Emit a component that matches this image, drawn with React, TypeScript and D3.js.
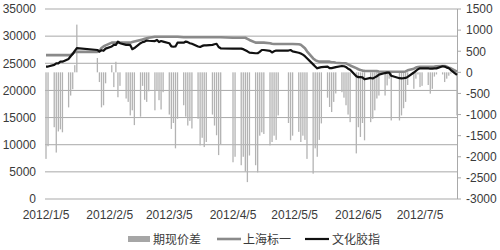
import React from "react";
import * as d3 from "d3";

// trading days of 2012 (month/day)
const dates = [
  "1/5","1/6","1/9","1/10","1/11","1/12","1/13","1/16","1/17","1/18","1/19","1/20","1/30","1/31",
  "2/1","2/2","2/3","2/6","2/7","2/8","2/9","2/10","2/13","2/14","2/15","2/16","2/17","2/20","2/21","2/22","2/23","2/24","2/27","2/28","2/29",
  "3/1","3/2","3/5","3/6","3/7","3/8","3/9","3/12","3/13","3/14","3/15","3/16","3/19","3/20","3/21","3/22","3/23","3/26","3/27","3/28","3/29","3/30",
  "4/5","4/6","4/9","4/10","4/11","4/12","4/13","4/16","4/17","4/18","4/19","4/20","4/23","4/24","4/25","4/26","4/27",
  "5/2","5/3","5/4","5/7","5/8","5/9","5/10","5/11","5/14","5/15","5/16","5/17","5/18","5/21","5/22","5/23","5/24","5/25","5/28","5/29","5/30","5/31",
  "6/1","6/4","6/5","6/6","6/7","6/8","6/11","6/12","6/13","6/14","6/15","6/18","6/19","6/20","6/21","6/25","6/26","6/27","6/28","6/29",
  "7/2","7/3","7/4","7/5","7/6","7/9","7/10","7/11","7/12","7/13","7/16","7/17","7/18","7/19","7/20","7/23",
];

// 期现价差 (right axis)
const spread = [
  -2050,-1750,-1300,-1900,-1400,-1350,-1420,-830,-550,-400,170,1130,340,-230,
  -830,-780,-260,170,-350,250,-590,-320,-620,-700,-1020,-900,-1250,-1050,-320,-650,-700,-450,-900,-430,-660,
  -880,-470,-1000,-1340,-1200,-1800,-1100,-780,-1050,-1260,-1150,-1330,-1100,-1730,-1550,-1770,-1650,-1000,-1260,-1490,-1960,-1700,
  -2130,-2000,-2200,-2000,-2350,-2600,-1970,-2200,-2370,-1500,-1420,-1460,-1730,-1650,-1500,-1600,-1020,
  -1200,-1610,-1500,-1410,-1650,-1500,-1600,-2050,-2400,-1800,-2000,-1600,-1210,-600,-820,-940,-700,-500,-470,-600,-780,-1000,
  -1180,-1920,-1300,-1530,-1200,-1610,-1180,-1100,-900,-620,-550,-550,-310,-150,-1140,-1140,-1020,-850,-700,-300,
  -390,-150,-50,-350,-320,-300,-505,-390,-100,-50,-50,-230,-150,-80,-30,-1020,
];

// 上海标一 (left axis)
const shanghai = [
  26500,26500,26500,26500,26500,26500,26500,26500,26500,26800,27100,27100,27100,27300,
  27800,28100,28300,28800,28800,28800,28800,28800,28800,28800,28800,28900,29000,29300,29400,29500,29600,29700,29900,29900,29900,
  29900,29900,29900,29900,29900,29900,29900,29800,29800,29800,29800,29800,29800,29800,29800,29800,29800,29800,29800,29800,29800,29800,
  29700,29700,29700,29700,29700,29500,29300,28800,28800,28800,28800,28800,28700,28600,28550,28550,28550,
  28550,28550,28550,28500,28400,28100,27760,27200,25900,25600,25400,25300,25300,25300,25300,25200,25200,25100,25000,25000,25000,24800,
  24600,24100,23900,23750,23650,23600,23580,23580,23580,23550,23500,23450,23450,23450,23450,23450,23450,23450,23500,23700,
  24000,24200,24300,24370,24370,24370,24370,24370,24400,24450,24500,24500,24400,24200,24070,23450,
];

// 文化胶指 (left axis)
const wenhua = [
  24400,24400,24700,25000,25000,25300,25300,25800,26300,26700,27300,27800,27450,27150,
  27400,27300,27700,28100,28400,28400,29000,28700,28400,28400,28350,27600,27800,28700,28900,29000,29200,29150,29100,29300,28900,
  29100,29000,28700,28100,28050,28100,28800,28800,29000,28900,28700,28600,28100,28000,28200,28300,28300,28400,28500,28600,28000,27760,
  27700,27700,27700,27600,27400,27200,26950,26850,26850,27100,27450,27450,27300,27000,27200,27350,27350,
  27350,27450,27200,26950,26800,26600,26300,25920,24800,24400,24070,24200,24300,24400,24100,24100,24200,24300,24500,24450,24300,24000,
  23800,22600,22450,22450,22400,22050,22300,22200,22400,22600,22900,23200,23270,23270,22700,22250,22230,22250,22300,22500,
  23300,23600,23900,24070,24070,24070,24000,24000,24050,24070,24450,24400,24200,24100,23760,22850,
];

const xTickLabels = ["2012/1/5","2012/2/5","2012/3/5","2012/4/5","2012/5/5","2012/6/5","2012/7/5"];
const leftTicks = [0,5000,10000,15000,20000,25000,30000,35000];
const rightTicks = [-3000,-2500,-2000,-1500,-1000,-500,0,500,1000,1500];
const legendLabels = ["期现价差","上海标一","文化胶指"];

const W = 500, H = 250;
const L = 46, R = 457, T = 9, B = 199;
const numFont = "'Liberation Sans', Arial, sans-serif";
const cjkFont = "'Noto Sans CJK SC', sans-serif";

export default function App() {
  const parse = d3.timeParse("%Y/%m/%d");
  const t = dates.map((d) => parse("2012/" + d) as Date);
  const x = d3.scaleTime().domain(d3.extent(t) as [Date, Date]).range([L, R]);
  const yL = d3.scaleLinear().domain([0, 35000]).range([B, T]);
  const yR = d3.scaleLinear().domain([-3000, 1500]).range([B, T]);
  const lineGen = d3.line<number>().x((_, i) => x(t[i])).y((v) => yL(v));
  const barW = 1.3;

  return (
    <svg width={W} height={H} style={{ position: "absolute", left: 0, top: 0, background: "#fff" }}>
      {/* grid */}
      {leftTicks.map((v) => (
        <line key={"g" + v} x1={L - 1} x2={R} y1={yL(v)} y2={yL(v)} stroke="#a9a9a9" strokeWidth={1} />
      ))}
      {/* right axis */}
      <line x1={R + 0.5} x2={R + 0.5} y1={T} y2={B} stroke="#a9a9a9" strokeWidth={1} />
      {rightTicks.map((v) => (
        <line key={"rt" + v} x1={R} x2={R + 4} y1={yR(v)} y2={yR(v)} stroke="#a9a9a9" strokeWidth={1} />
      ))}
      {/* bars */}
      {spread.map((v, i) => {
        const y0 = yR(0), y1 = yR(v);
        return (
          <rect key={"b" + i} x={x(t[i]) - barW / 2} y={Math.min(y0, y1)} width={barW}
            height={Math.abs(y1 - y0)} fill="#b3b3b3" />
        );
      })}
      {/* lines */}
      <path d={lineGen(shanghai) || ""} fill="none" stroke="#8a8a8a" strokeWidth={2.6} strokeLinejoin="round" />
      <path d={lineGen(wenhua) || ""} fill="none" stroke="#111" strokeWidth={2.2} strokeLinejoin="round" />
      {/* left labels */}
      {leftTicks.map((v) => (
        <text key={"lt" + v} x={36} y={yL(v)} dy="0.36em" textAnchor="end" fontFamily={numFont}
          fontSize={12} fill="#3a3a3a">{v}</text>
      ))}
      {/* right labels */}
      {rightTicks.map((v) => (
        <text key={"rl" + v} x={466} y={yR(v)} dy="0.36em" textAnchor="start" fontFamily={numFont}
          fontSize={12} fill="#3a3a3a">{v}</text>
      ))}
      {/* x labels */}
      {xTickLabels.map((s) => (
        <text key={s} x={x(parse(s) as Date)} y={219} textAnchor="middle" fontFamily={numFont}
          fontSize={12} fill="#3a3a3a">{s}</text>
      ))}
      {/* legend */}
      <rect x={128} y={236} width={22} height={6} fill="#a6a6a6" />
      <text x={153} y={243.5} fontFamily={cjkFont} fontSize={12} fill="#3a3a3a">{legendLabels[0]}</text>
      <line x1={217} x2={241} y1={239} y2={239} stroke="#8a8a8a" strokeWidth={2.6} />
      <text x={243} y={243.5} fontFamily={cjkFont} fontSize={12} fill="#3a3a3a">{legendLabels[1]}</text>
      <line x1={305} x2={329} y1={239} y2={239} stroke="#111" strokeWidth={2.2} />
      <text x={332} y={243.5} fontFamily={cjkFont} fontSize={12} fill="#3a3a3a">{legendLabels[2]}</text>
    </svg>
  );
}
